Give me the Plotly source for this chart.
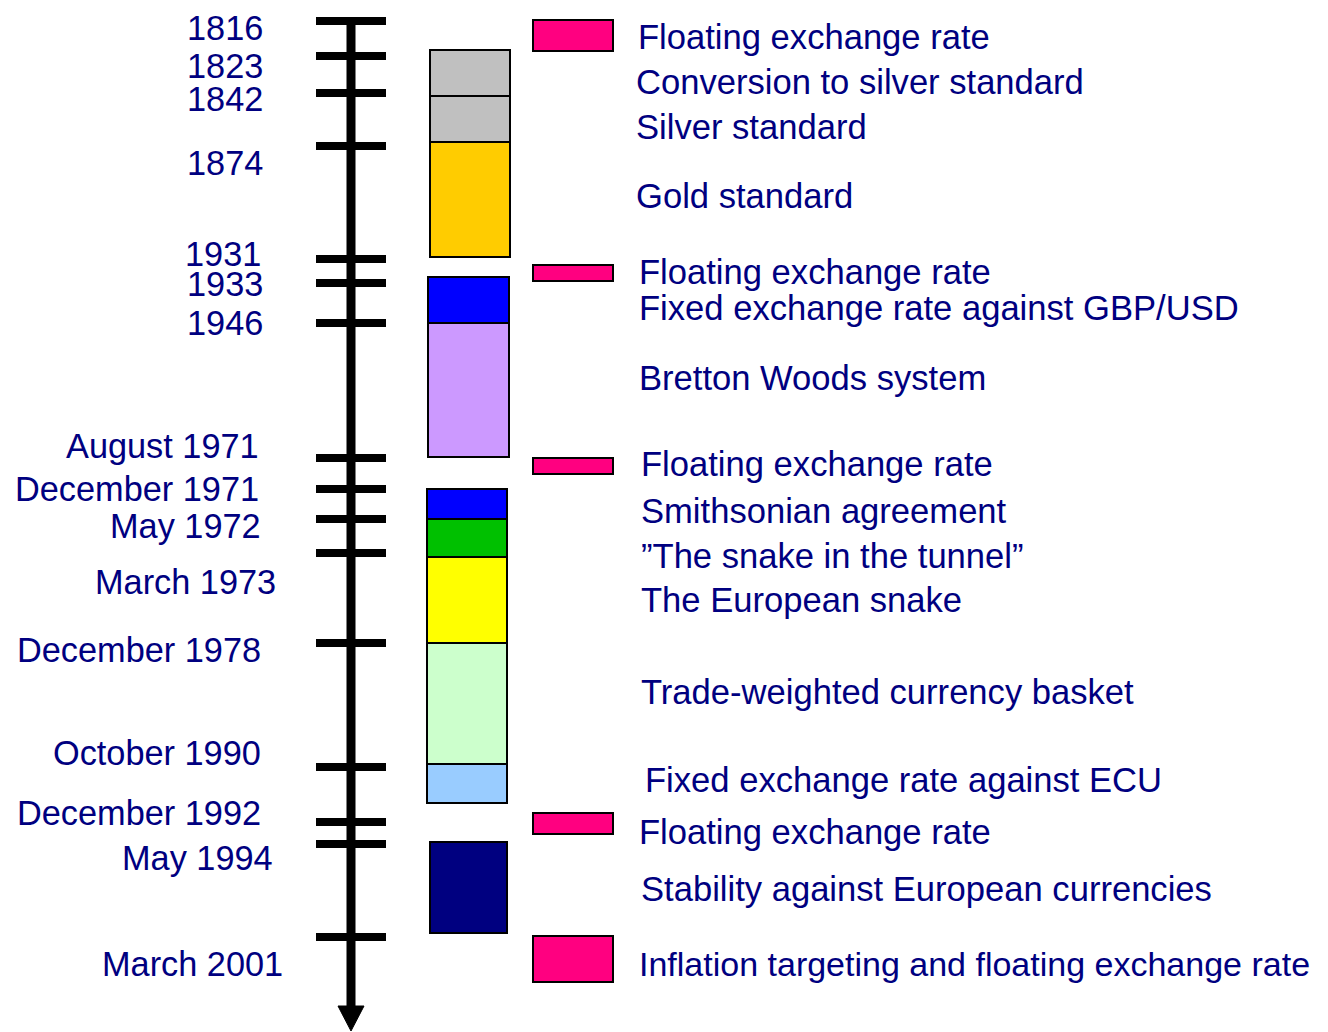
import plotly.graph_objects as go

# Timeline dates (left labels) and their tick positions (pixel-scale timeline units)
date_labels = ["1816", "1823", "1842", "1874", "1931", "1933", "1946",
               "August 1971", "December 1971", "May 1972", "March 1973",
               "December 1978", "October 1990", "December 1992", "May 1994",
               "March 2001"]
tick_pos = [21, 56, 93, 146, 259, 283, 323, 458, 489, 519, 553, 643, 767, 822, 844, 937]
label_pos = [28, 66, 99, 163, 254, 284, 323, 446, 489, 526, 582, 650, 753, 813, 858, 964]
label_right = [262, 262, 262, 262, 260, 262, 262, 258, 258, 260, 275, 260, 260, 260, 272, 282]

# Regimes (right texts)
regime_names = ["Floating exchange rate", "Conversion to silver standard", "Silver standard",
                "Gold standard", "Floating exchange rate", "Fixed exchange rate against GBP/USD",
                "Bretton Woods system", "Floating exchange rate", "Smithsonian agreement",
                "\u201dThe snake in the tunnel\u201d", "The European snake",
                "Trade-weighted currency basket", "Fixed exchange rate against ECU",
                "Floating exchange rate", "Stability against European currencies",
                "Inflation targeting and floating exchange rate"]
regime_text_pos = [37, 82, 127, 196, 272, 308, 378, 464, 511, 556, 600, 692, 780, 832, 889, 964]
regime_text_x = [639, 637, 637, 637, 640, 640, 640, 642, 642, 642, 642, 642, 646, 640, 642, 640]
regime_font = [34.6] * 15 + [34.0]

# Fixed-regime blocks (middle column)
block_top = [50, 96, 142, 277, 323, 489, 519, 557, 643, 764, 842]
block_bottom = [96, 142, 257, 323, 457, 519, 557, 643, 764, 803, 933]
block_left = [430, 430, 430, 428, 428, 427, 427, 427, 427, 427, 430]
block_right = [510, 510, 510, 509, 509, 507, 507, 507, 507, 507, 507]
block_colors = ["#C0C0C0", "#C0C0C0", "#FFCC00", "#0000FF", "#CC99FF", "#0000FF",
                "#00C000", "#FFFF00", "#CCFFCC", "#99CCFF", "#000080"]

# Floating blocks (pink)
float_top = [20, 265, 458, 813, 936]
float_bottom = [51, 281, 474, 834, 982]

NAVY = "#000080"
PINK = "#FF0080"
FONT = "Liberation Sans, Arial, sans-serif"
OFF = 8  # page body margin compensation

fig = go.Figure()
shapes = []

# Main vertical timeline
shapes.append(dict(type="line", x0=351, x1=351, y0=17, y1=1010,
                   line=dict(color="black", width=9)))
# Arrow head
shapes.append(dict(type="path", path="M 338 1006 L 364 1006 L 351 1031 Z",
                   fillcolor="black", line=dict(color="black", width=1)))
# Ticks
for y in tick_pos:
    shapes.append(dict(type="line", x0=316, x1=386, y0=y, y1=y,
                       line=dict(color="black", width=8)))

for t, b, l, r, c in zip(block_top, block_bottom, block_left, block_right, block_colors):
    shapes.append(dict(type="rect", x0=l, x1=r, y0=t, y1=b, fillcolor=c,
                       line=dict(color="black", width=2)))

for t, b in zip(float_top, float_bottom):
    shapes.append(dict(type="rect", x0=533, x1=613, y0=t, y1=b, fillcolor=PINK,
                       line=dict(color="black", width=2)))

annotations = []
for txt, y, xr in zip(date_labels, label_pos, label_right):
    annotations.append(dict(x=xr + 3, y=y, text=txt, showarrow=False, xanchor="right",
                            yanchor="middle", font=dict(family=FONT, size=34.3, color=NAVY)))
for txt, y, xl, fs in zip(regime_names, regime_text_pos, regime_text_x, regime_font):
    annotations.append(dict(x=xl - 3, y=y, text=txt, showarrow=False, xanchor="left",
                            yanchor="middle", font=dict(family=FONT, size=fs, color=NAVY)))

fig.update_layout(
    width=1328 - OFF, height=1032 - OFF,
    margin=dict(l=0, r=0, t=0, b=0),
    paper_bgcolor="white", plot_bgcolor="white",
    xaxis=dict(range=[OFF, 1328], visible=False, fixedrange=True),
    yaxis=dict(range=[1032, OFF], visible=False, fixedrange=True),
    shapes=shapes, annotations=annotations, showlegend=False,
)
fig.write_html("out.html")
